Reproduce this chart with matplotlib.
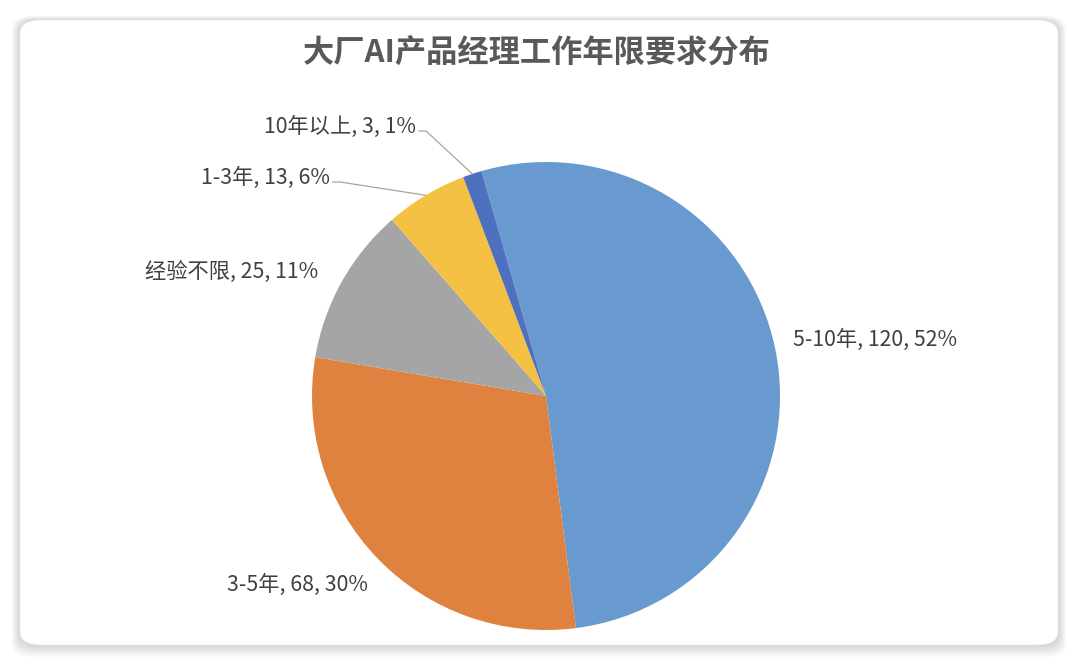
import matplotlib.pyplot as plt
import numpy as np
from matplotlib.patches import FancyBboxPatch

plt.rcParams['font.family'] = ['Noto Sans CJK SC', 'DejaVu Sans']

categories = ['5-10年', '3-5年', '经验不限', '1-3年', '10年以上']
counts = [120, 68, 25, 13, 3]
colors = ['#6899CF', '#E0823F', '#A5A5A5', '#F4C142', '#4F70BF']
title = '大厂AI产品经理工作年限要求分布'

W, H = 1080, 666
fig = plt.figure(figsize=(W / 100, H / 100), dpi=100)
fig.patch.set_facecolor('white')

# card with soft shadow
for i in range(14, 0, -1):
    fig.patches.append(FancyBboxPatch(
        ((20 - i * 0.6) / W, (H - 645 - i * 0.9) / H), (1038 + i * 1.2) / W, (625 + i * 1.2) / H,
        boxstyle='round,pad=0,rounding_size=0.02', transform=fig.transFigure,
        facecolor='black', edgecolor='none', alpha=0.012, zorder=0))
fig.patches.append(FancyBboxPatch(
    (20 / W, (H - 645) / H), 1038 / W, 625 / H,
    boxstyle='round,pad=0,rounding_size=0.02', transform=fig.transFigure,
    facecolor='white', edgecolor='#ececec', linewidth=0.5, zorder=1))

cx, cy, r = 546, 396, 234
ax = fig.add_axes([(cx - r) / W, (H - cy - r) / H, 2 * r / W, 2 * r / H])
ax.set_zorder(2)
wedges, _ = ax.pie(counts, colors=colors, startangle=106, counterclock=False,
                   radius=1, wedgeprops=dict(linewidth=0))
ax.set_xlim(-1, 1)
ax.set_ylim(-1, 1)
ax.axis('off')


def px(x, y):
    return (x - cx) / r, (cy - y) / r


total = sum(counts)
labels = [f'{c}, {n}, {round(n / total * 100)}%' for c, n in zip(categories, counts)]
# text anchor (pixels) and horizontal alignment
label_pos = [(793, 340, 'left'), (227, 585, 'left'), (145, 272, 'left'),
             (330, 178, 'right'), (416, 127, 'right')]
leader = [False, False, False, True, True]

for w, lab, (x, y, ha), ld in zip(wedges, labels, label_pos, leader):
    tx, ty = px(x, y)
    ax.text(tx, ty, lab, ha=ha, va='center', fontsize=15.3, color='#404040')
    if ld:
        mid = np.deg2rad((w.theta1 + w.theta2) / 2)
        ex, ey = np.cos(mid), np.sin(mid)
        sx, sy = px(x + 3, y + 4)
        kx, ky = px(x + 10, y + 4)
        ax.plot([sx, kx, ex], [sy, ky, ey], color='#A6A6A6', lw=0.9, clip_on=False)

fig.text(537 / W, 1 - 54 / H, title, ha='center', va='center', fontsize=22.5,
         fontweight='bold', color='#595959', zorder=3)

fig.savefig('out.png', dpi=100)
